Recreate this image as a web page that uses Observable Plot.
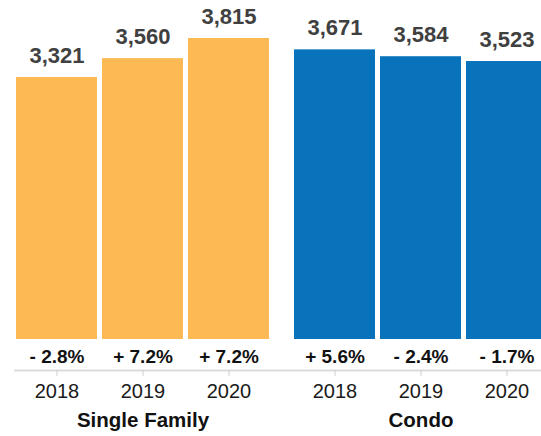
<!DOCTYPE html>
<html><head><meta charset="utf-8">
<script src="https://cdn.jsdelivr.net/npm/d3@7"></script>
<script src="https://cdn.jsdelivr.net/npm/@observablehq/plot@0.6"></script>
<style>
html,body{margin:0;padding:0;background:#fff;overflow:hidden}
#chart{width:541px;height:436px;overflow:hidden}
#chart svg{max-width:none !important}
</style></head><body><div id="chart"></div>
<script>
const groups = ["Single Family", "Condo"];
const years = ["2018", "2019", "2020"];
const singleFamily = [3321, 3560, 3815];
const condo = [3671, 3584, 3523];
const singleFamilyChange = [-2.8, 7.2, 7.2];
const condoChange = [5.6, -2.4, -1.7];
const colors = ["#FDBA54", "#0872BB"];

const data = [];
groups.forEach((g, gi) => {
  const vals = gi === 0 ? singleFamily : condo;
  const ch = gi === 0 ? singleFamilyChange : condoChange;
  years.forEach((y, i) => data.push({group: g, year: y, value: vals[i], change: ch[i]}));
});

const fmtVal = d3.format(",");
const fmtChg = c => (c < 0 ? "- " : "+ ") + Math.abs(c).toFixed(1) + "%";

const chart = Plot.plot({
  width: 570, height: 436, marginLeft: 14, marginRight: 0, marginTop: 0, marginBottom: 66,
  style: {fontFamily: "'Liberation Sans', Arial, sans-serif", background: "#fff", maxWidth: "none"},
  fx: {domain: groups, padding: 0, axis: null},
  x: {domain: years, paddingInner: 0.058, paddingOuter: 0.136, align: 0.085, axis: null},
  y: {domain: [0, 4000], range: [339, 23.4], axis: null},
  color: {domain: groups, range: colors},
  marks: [
    Plot.barY(data, {fx: "group", x: "year", y: "value", fill: "group"}),
    Plot.ruleY([0], {dy: 31, stroke: "#dcdcdc", strokeWidth: 2}),
    Plot.axisX({tickSize: 6, tickPadding: 7, stroke: "#cfcfcf", fill: "#1a1a1a", fontSize: 20, label: null}),
    Plot.text(data, {fx: "group", x: "year", y: "value", text: d => fmtVal(d.value), dy: -22, fontSize: 22, fontWeight: "bold", fill: "#404040"}),
    Plot.text(data, {fx: "group", x: "year", frameAnchor: "bottom", dy: -8, text: d => fmtChg(d.change), fontSize: 19, fontWeight: "bold", fill: "#111"}),
    Plot.text(groups, {fx: d => d, x: () => "2019", frameAnchor: "bottom", dy: 56, text: d => d, fontSize: 20.5, fontWeight: "bold", fill: "#111"})
  ]
});
document.getElementById("chart").appendChild(chart);
</script></body></html>
